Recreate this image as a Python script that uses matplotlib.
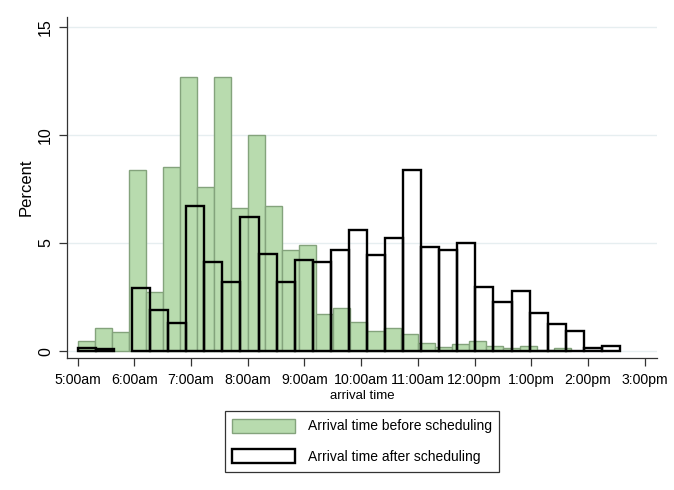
import matplotlib
matplotlib.use("Agg")
import matplotlib.pyplot as plt
import numpy as np

plt.rcParams["font.family"] = ["Liberation Sans", "DejaVu Sans"]

# histogram heights (percent), bins start at 5:00am
before_pct = [0.45, 1.05, 0.9, 8.4, 2.75, 8.5, 12.7, 7.6, 12.7, 6.6,
              10.0, 6.7, 4.7, 4.9, 1.7, 1.98, 1.33, 0.94, 1.06, 0.77,
              0.38, 0.2, 0.32, 0.45, 0.22, 0.15, 0.25, 0.05, 0.12]
after_pct = [0.15, 0.08, 0.0, 2.93, 1.88, 1.3, 6.73, 4.12, 3.19, 6.19,
             4.48, 3.21, 4.21, 4.12, 4.68, 5.6, 4.44, 5.22, 8.38, 4.83,
             4.68, 4.99, 2.98, 2.27, 2.79, 1.74, 1.24, 0.94, 0.14, 0.23]
before_start, before_width = 5.0, 0.3      # hours
after_start, after_width = 5.0, 0.3189

tick_hours = list(range(5, 16))
tick_labels = ["5:00am", "6:00am", "7:00am", "8:00am", "9:00am", "10:00am",
               "11:00am", "12:00pm", "1:00pm", "2:00pm", "3:00pm"]
y_ticks = [0, 5, 10, 15]

W, H = 674, 490
fig = plt.figure(figsize=(W / 100, H / 100), dpi=100)
ax = fig.add_axes([67 / W, 1 - 358 / H, (657 - 67) / W, (358 - 17) / H])

for y in y_ticks:
    ax.axhline(y, color="#e6eef0", lw=1.0, zorder=0)

b = np.array(before_pct)
xb = before_start + before_width * np.arange(len(b))
ax.bar(xb, b, width=before_width, align="edge", color="#b8dbae",
       edgecolor="#84a37c", linewidth=1.0, zorder=2,
       label="Arrival time before scheduling")

a = np.array(after_pct)
xa = after_start + after_width * np.arange(len(a))
keep = a > 0
ax.bar(xa[keep], a[keep], width=after_width, align="edge", facecolor="none",
       edgecolor="black", linewidth=1.7, zorder=3,
       label="Arrival time after scheduling")

ax.set_xlim(4.81, 15.22)
ax.set_ylim(-0.32, 15.46)
ax.set_xticks(tick_hours)
ax.set_xticklabels(tick_labels, fontsize=10.2)
ax.set_yticks(y_ticks)
ax.set_yticklabels([str(v) for v in y_ticks], rotation=90, va="center",
                   fontsize=11.5)
ax.tick_params(axis="both", direction="out", length=6, width=0.9,
               color="#333333")
ax.tick_params(axis="x", pad=5)
ax.tick_params(axis="y", pad=4)

for s in ["top", "right"]:
    ax.spines[s].set_visible(False)
for s in ["left", "bottom"]:
    ax.spines[s].set_color("#333333")
    ax.spines[s].set_linewidth(0.9)

ax.set_ylabel("Percent", fontsize=12, labelpad=3)
ax.set_xlabel("arrival time", fontsize=9.5, labelpad=2)

leg = fig.legend(loc="upper center", bbox_to_anchor=(362 / W, 1 - 411 / H),
                 borderaxespad=0, fontsize=10, handlelength=4.5,
                 handleheight=1.16, handletextpad=0.9, labelspacing=1.15,
                 borderpad=0.55, fancybox=False, framealpha=1)
leg.get_frame().set_edgecolor("#333333")
leg.get_frame().set_linewidth(0.9)

fig.savefig("out.png", dpi=100)
